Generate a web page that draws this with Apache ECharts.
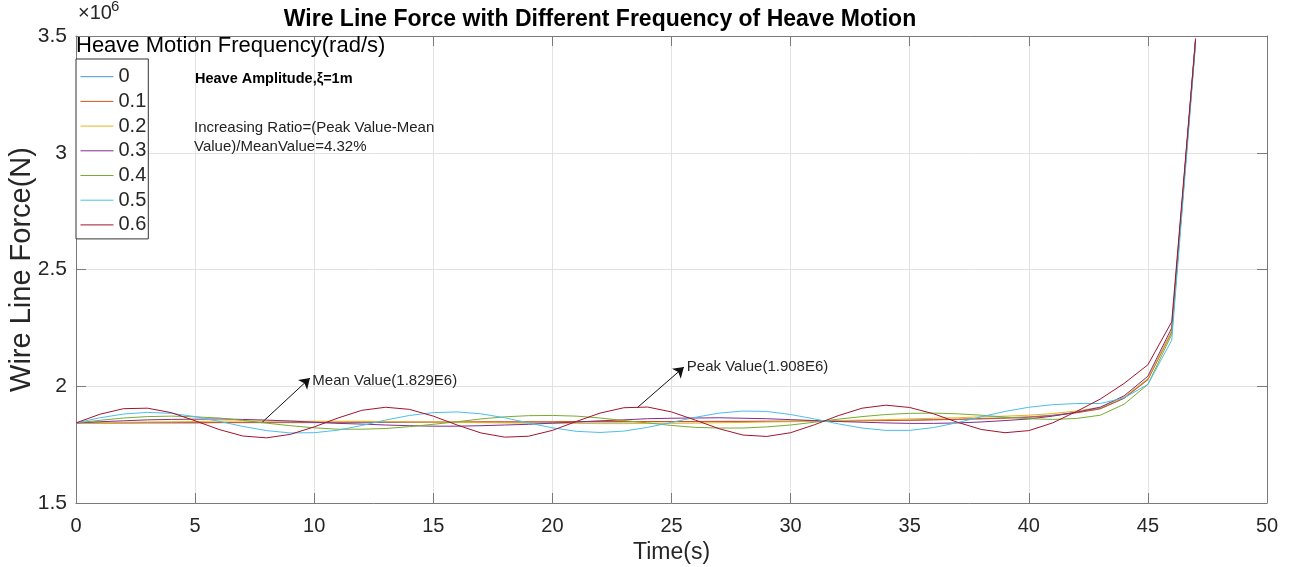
<!DOCTYPE html>
<html>
<head>
<meta charset="utf-8">
<script src="https://cdn.jsdelivr.net/npm/echarts@6/dist/echarts.min.js"></script>
<style>
html,body{margin:0;padding:0;background:#fff;}
#chart{width:1290px;height:567px;}
</style>
</head>
<body>
<div id="chart"></div>
<script>
// Time (s)
const time = [0,1,2,3,4,5,6,7,8,9,10,11,12,13,14,15,16,17,18,19,20,21,22,23,24,25,26,27,28,29,30,31,32,33,34,35,36,37,38,39,40,41,42,43,44,45,46,47];
// Wire line force (x10^6 N) for each heave motion frequency (rad/s)
const seriesNames = ['0','0.1','0.2','0.3','0.4','0.5','0.6'];
const f00 = [1.843,1.843,1.843,1.843,1.843,1.843,1.844,1.844,1.844,1.844,1.844,1.844,1.845,1.845,1.845,1.845,1.845,1.846,1.846,1.846,1.846,1.847,1.847,1.847,1.848,1.848,1.848,1.849,1.849,1.850,1.850,1.851,1.852,1.853,1.854,1.855,1.857,1.859,1.862,1.865,1.869,1.876,1.888,1.905,1.950,2.030,2.235,3.478];
const f01 = [1.843,1.843,1.843,1.844,1.844,1.844,1.845,1.845,1.846,1.846,1.846,1.846,1.847,1.847,1.847,1.847,1.847,1.848,1.848,1.848,1.848,1.849,1.849,1.849,1.849,1.849,1.849,1.850,1.850,1.850,1.850,1.851,1.851,1.852,1.853,1.854,1.856,1.858,1.860,1.863,1.867,1.874,1.886,1.903,1.948,2.028,2.233,3.476];
const f02 = [1.843,1.844,1.846,1.847,1.848,1.849,1.851,1.851,1.851,1.851,1.850,1.850,1.850,1.849,1.847,1.846,1.845,1.844,1.843,1.842,1.841,1.841,1.840,1.840,1.841,1.841,1.842,1.844,1.845,1.847,1.848,1.850,1.853,1.855,1.857,1.860,1.863,1.865,1.869,1.872,1.876,1.883,1.894,1.910,1.954,2.033,2.237,3.478];
const f03 = [1.843,1.848,1.852,1.856,1.858,1.859,1.860,1.858,1.855,1.851,1.846,1.841,1.838,1.834,1.831,1.829,1.829,1.831,1.834,1.837,1.842,1.847,1.852,1.856,1.861,1.863,1.864,1.865,1.863,1.861,1.857,1.853,1.849,1.846,1.843,1.841,1.841,1.843,1.847,1.853,1.860,1.872,1.889,1.910,1.959,2.043,2.250,3.490];
const f04 = [1.843,1.854,1.864,1.870,1.872,1.869,1.864,1.854,1.842,1.831,1.822,1.816,1.816,1.819,1.827,1.837,1.848,1.860,1.869,1.874,1.875,1.872,1.864,1.853,1.843,1.832,1.824,1.821,1.821,1.826,1.834,1.846,1.859,1.870,1.879,1.884,1.885,1.882,1.876,1.868,1.861,1.858,1.862,1.876,1.923,2.008,2.222,3.477];
const f05 = [1.843,1.865,1.881,1.888,1.884,1.870,1.850,1.828,1.810,1.800,1.801,1.812,1.832,1.855,1.875,1.887,1.890,1.882,1.865,1.843,1.822,1.807,1.802,1.808,1.824,1.845,1.867,1.885,1.894,1.892,1.879,1.860,1.839,1.821,1.811,1.811,1.823,1.844,1.869,1.892,1.910,1.921,1.926,1.926,1.950,2.008,2.197,3.465];
const f06 = [1.843,1.880,1.904,1.906,1.887,1.852,1.815,1.787,1.779,1.794,1.826,1.864,1.897,1.910,1.901,1.872,1.834,1.800,1.782,1.786,1.811,1.849,1.885,1.908,1.911,1.890,1.855,1.818,1.791,1.785,1.801,1.835,1.874,1.906,1.919,1.909,1.882,1.846,1.815,1.801,1.810,1.843,1.892,1.945,2.012,2.092,2.276,3.484];
const allSeries = [f00,f01,f02,f03,f04,f05,f06];
const colors = ['#4A95C8','#D95319','#EDB120','#7E2F8E','#77AC30','#4DBEEE','#A2142F'];
// Axis ticks
const xTicks = [0,5,10,15,20,25,30,35,40,45,50];
const yTicks = [1.5,2,2.5,3,3.5];

const FONT = '"Liberation Sans", Arial, Helvetica, sans-serif';
const TXT = '#262626';
const AX = '#7a7a7a';

// annotation anchors (data coordinates)
const meanArrow = [[7.80,1.844],[9.82,2.035]];
const peakArrow = [[23.55,1.907],[25.52,2.082]];
const meanLabelAt = [9.86,2.023];
const peakLabelAt = [25.58,2.082];

const chart = echarts.init(document.getElementById('chart'), null, {renderer:'canvas'});

const series = seriesNames.map((name,i)=>({
  name: name,
  type: 'line',
  xAxisIndex: 0, yAxisIndex: 0,
  data: time.map((t,k)=>[t, allSeries[i][k]]),
  symbol: 'none',
  showSymbol: false,
  lineStyle: {width: 1, color: colors[i]},
  itemStyle: {color: colors[i]},
  z: 2 + i,
  animation: false
}));

series[0].markLine = {
  silent: true,
  symbol: ['none','arrow'],
  symbolSize: 10,
  lineStyle: {color: '#111', width: 1, type: 'solid'},
  itemStyle: {color: '#111'},
  label: {show: false},
  data: [
    [{coord: meanArrow[0]}, {coord: meanArrow[1]}],
    [{coord: peakArrow[0]}, {coord: peakArrow[1]}]
  ],
  animation: false
};
series[0].markPoint = {
  silent: true,
  symbol: 'circle',
  symbolSize: 1,
  itemStyle: {color: 'rgba(0,0,0,0)'},
  label: {show: true, position: 'right', distance: 1, fontSize: 15, fontFamily: FONT, color: TXT,
          formatter: p => p.name},
  data: [
    {name: 'Mean Value(1.829E6)', coord: meanLabelAt},
    {name: 'Peak Value(1.908E6)', coord: peakLabelAt}
  ],
  animation: false
};

const option = {
  backgroundColor: '#fff',
  animation: false,
  title: {
    text: 'Wire Line Force with Different Frequency of Heave Motion',
    left: 600, top: 8, textAlign: 'center', padding: 0,
    textStyle: {fontSize: 23, fontWeight: 'bold', color: '#000', fontFamily: FONT}
  },
  grid: {left: 76, right: 23, top: 36, bottom: 64, containLabel: false, outerBoundsMode: 'none'},
  legend: {
    data: seriesNames,
    orient: 'vertical',
    left: 76, top: 59,
    itemWidth: 33, itemHeight: 14, itemGap: 4.7,
    padding: [7.7, 2, 4, 4],
    borderColor: '#333', borderWidth: 1,
    backgroundColor: '#fff',
    itemStyle: {opacity: 0},
    lineStyle: {width: 1},
    textStyle: {fontSize: 20, color: TXT, fontFamily: FONT},
    z: 20
  },
  xAxis: [{
    type: 'value', position: 'bottom', min: 0, max: 50, interval: 5,
    name: 'Time(s)', nameLocation: 'middle', nameGap: 38, nameMoveOverlap: false,
    nameTextStyle: {fontSize: 23, color: TXT, fontFamily: FONT},
    axisLine: {show: true, onZero: false, lineStyle: {color: AX, width: 1}},
    axisTick: {show: true, inside: true, length: 10, lineStyle: {color: AX}},
    axisLabel: {fontSize: 20, color: TXT, fontFamily: FONT, margin: 13,
                formatter: v => xTicks.includes(v) ? String(v) : ''},
    splitLine: {show: true, lineStyle: {color: '#e2e2e2', width: 1}}
  },{
    type: 'value', position: 'top', min: 0, max: 50, interval: 5,
    axisLine: {show: true, onZero: false, lineStyle: {color: AX, width: 1}},
    axisTick: {show: true, inside: true, length: 10, lineStyle: {color: AX}},
    axisLabel: {show: false},
    splitLine: {show: false}
  }],
  yAxis: [{
    type: 'value', position: 'left', min: 1.5, max: 3.5, interval: 0.5,
    name: 'Wire Line Force(N)', nameLocation: 'middle', nameGap: 40, nameMoveOverlap: false,
    nameTextStyle: {fontSize: 29, color: TXT, fontFamily: FONT},
    axisLine: {show: true, onZero: false, lineStyle: {color: AX, width: 1}},
    axisTick: {show: true, inside: true, length: 10, lineStyle: {color: AX}},
    axisLabel: {fontSize: 21, color: TXT, fontFamily: FONT, margin: 9,
                formatter: v => yTicks.includes(v) ? String(v) : ''},
    splitLine: {show: true, lineStyle: {color: '#e2e2e2', width: 1}}
  },{
    type: 'value', position: 'right', min: 1.5, max: 3.5, interval: 0.5,
    axisLine: {show: true, onZero: false, lineStyle: {color: AX, width: 1}},
    axisTick: {show: true, inside: true, length: 10, lineStyle: {color: AX}},
    axisLabel: {show: false},
    splitLine: {show: false}
  }],
  graphic: [
    {type: 'text', left: 78, top: 3, z: 30,
     style: {text: '×10', fontSize: 20, fill: TXT, fontFamily: FONT}},
    {type: 'text', left: 111, top: -1, z: 30,
     style: {text: '6', fontSize: 15, fill: TXT, fontFamily: FONT}},
    {type: 'text', left: 76, top: 35, z: 30,
     style: {text: 'Heave Motion Frequency(rad/s)', fontSize: 22, fill: '#000', fontFamily: FONT}},
    {type: 'text', left: 195, top: 71, z: 30,
     style: {text: 'Heave Amplitude,ξ=1m', fontSize: 14.5, fontWeight: 'bold', fill: '#000', fontFamily: FONT}},
    {type: 'text', left: 194, top: 118, z: 30,
     style: {text: 'Increasing Ratio=(Peak Value-Mean\nValue)/MeanValue=4.32%', fontSize: 15, lineHeight: 19, fill: '#222', fontFamily: FONT}}
  ],
  series: series
};
chart.setOption(option);
</script>
</body>
</html>
